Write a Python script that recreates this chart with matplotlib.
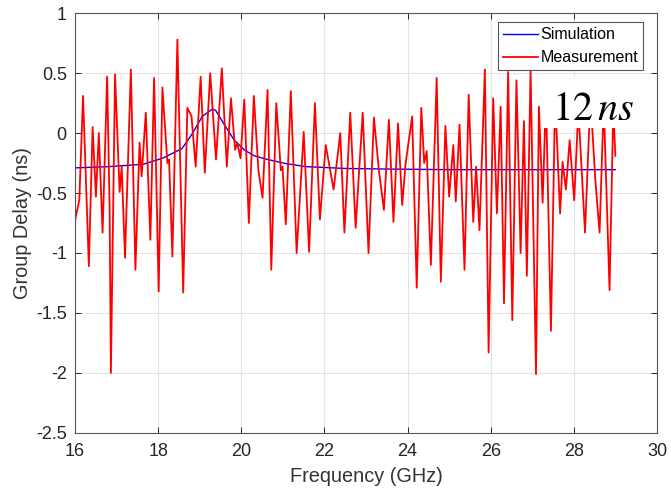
import matplotlib
matplotlib.use("Agg")
import matplotlib.pyplot as plt
from matplotlib.patches import Rectangle

# Measured group delay (GHz, ns) — turning points of the trace
meas_freq = [16.00, 16.10, 16.19, 16.33, 16.42, 16.50, 16.57, 16.66, 16.77, 16.83,
             16.86, 16.96, 17.07, 17.12, 17.20, 17.34, 17.45, 17.55, 17.60, 17.70,
             17.81, 17.90, 18.01, 18.10, 18.22, 18.26, 18.34, 18.46, 18.60, 18.70,
             18.80, 18.90, 19.02, 19.12, 19.25, 19.39, 19.53, 19.65, 19.75, 19.85,
             19.90, 19.98, 20.07, 20.18, 20.30, 20.41, 20.51, 20.63, 20.72, 20.84,
             20.95, 20.99, 21.07, 21.19, 21.33, 21.50, 21.63, 21.77, 21.89, 22.03,
             22.22, 22.38, 22.48, 22.62, 22.75, 22.92, 23.06, 23.19, 23.31, 23.43,
             23.55, 23.66, 23.77, 23.87, 23.95, 24.11, 24.22, 24.33, 24.40, 24.46,
             24.56, 24.70, 24.80, 24.91, 25.00, 25.10, 25.16, 25.25, 25.37, 25.47,
             25.58, 25.65, 25.73, 25.86, 25.95, 26.06, 26.15, 26.24, 26.32, 26.42,
             26.52, 26.62, 26.72, 26.80, 26.87, 26.96, 27.09, 27.16, 27.25, 27.33,
             27.45, 27.55, 27.67, 27.73, 27.81, 27.90, 28.01, 28.11, 28.27, 28.40,
             28.52, 28.62, 28.72, 28.86, 28.95, 29.00]
meas_delay = [-0.72, -0.56, 0.31, -1.11, 0.05, -0.53, 0.00, -0.83, 0.47, -0.64,
              -2.00, 0.49, -0.49, -0.28, -1.04, 0.53, -1.14, -0.08, -0.36, 0.17,
              -0.89, 0.46, -1.32, 0.38, -0.25, -0.22, -1.03, 0.78, -1.33, 0.21,
              0.14, -0.28, 0.47, -0.33, 0.50, -0.22, 0.54, -0.28, 0.29, -0.14,
              -0.08, -0.21, 0.28, -0.75, 0.31, -0.31, -0.54, 0.36, -1.14, 0.25,
              -0.31, -0.28, -0.76, 0.35, -1.00, 0.01, -0.99, 0.25, -0.72, -0.10,
              -0.47, 0.00, -0.83, 0.17, -0.79, 0.17, -1.00, 0.13, -0.31, -0.64,
              0.11, -0.74, 0.08, -0.60, -0.26, 0.14, -1.29, 0.21, -0.25, -0.15,
              -1.10, 0.46, -1.24, 0.06, -0.53, -0.10, -0.57, 0.07, -1.14, 0.32,
              -0.74, -0.28, -0.81, 0.53, -1.83, 0.29, -0.67, 0.22, -1.42, 0.51,
              -1.56, 0.44, -1.00, 0.10, -1.19, 0.53, -2.01, 0.22, -0.58, 0.30,
              -1.65, 0.30, -0.67, -0.24, -0.47, -0.06, -0.56, 0.20, -0.83, 0.30,
              -0.40, -0.83, 0.25, -1.31, 0.20, -0.19]

# Simulated group delay (GHz, ns)
sim_freq = [16.00, 16.80, 17.64, 18.10, 18.57, 18.81, 19.06, 19.30, 19.38, 19.59,
            19.83, 20.07, 20.31, 20.63, 21.08, 21.56, 21.89, 22.50, 23.50, 25.00,
            27.00, 29.00]
sim_delay = [-0.29, -0.28, -0.26, -0.21, -0.13, -0.01, 0.14, 0.20, 0.19, 0.07,
             -0.06, -0.14, -0.19, -0.22, -0.255, -0.28, -0.285, -0.295, -0.30, -0.305,
             -0.305, -0.305]

x_ticks = [16, 18, 20, 22, 24, 26, 28, 30]
y_ticks = [-2.5, -2, -1.5, -1, -0.5, 0, 0.5, 1]
y_tick_labels = ['-2.5', '-2', '-1.5', '-1', '-0.5', '0', '0.5', '1']

plt.rcParams['font.family'] = ['Liberation Sans', 'DejaVu Sans']
plt.rcParams['mathtext.fontset'] = 'stix'

fig = plt.figure(figsize=(6.71, 4.88), dpi=100)
ax = fig.add_axes([0.112, 0.113, 0.867, 0.86])

ax.plot(sim_freq, sim_delay, color='#0000ff', lw=1.0, label='Simulation', zorder=2)
ax.plot(meas_freq, meas_delay, color='#ff0000', lw=1.3, label='Measurement', zorder=2)

ax.set_xlim(16, 30)
ax.set_ylim(-2.5, 1)
ax.set_xticks(x_ticks)
ax.set_yticks(y_ticks)
ax.set_yticklabels(y_tick_labels)
ax.grid(True, color='#e3e3e3', lw=0.8, zorder=0)
ax.set_axisbelow(True)

ax.tick_params(direction='in', top=True, right=True, length=4, width=0.7,
               colors='#262626', labelsize=13, pad=6)
ax.tick_params(axis='x', pad=7)
for s in ax.spines.values():
    s.set_color('#555555')
    s.set_linewidth(0.8)

ax.set_xlabel('Frequency (GHz)', fontsize=14.3, color='#333333', labelpad=5)
ax.set_ylabel('Group Delay (ns)', fontsize=14.3, color='#333333', labelpad=3)

leg = ax.legend(loc='upper right', bbox_to_anchor=(0.976, 0.978), fontsize=11.5,
                handlelength=2.2, handletextpad=0.15, borderpad=0.3,
                labelspacing=0.5, fancybox=False, framealpha=1,
                edgecolor='#555555', borderaxespad=0)
leg.get_frame().set_linewidth(0.8)

# white label panel with the delay annotation
ax.add_patch(Rectangle((0.801, 0.727), 0.178, 0.12, transform=ax.transAxes,
                       facecolor='white', edgecolor='none', zorder=3))
ax.text(0.89, 0.772, r'$12\,ns$', transform=ax.transAxes, fontsize=29,
        ha='center', va='center', color='black', zorder=4)

fig.savefig('out.png', dpi=100)
